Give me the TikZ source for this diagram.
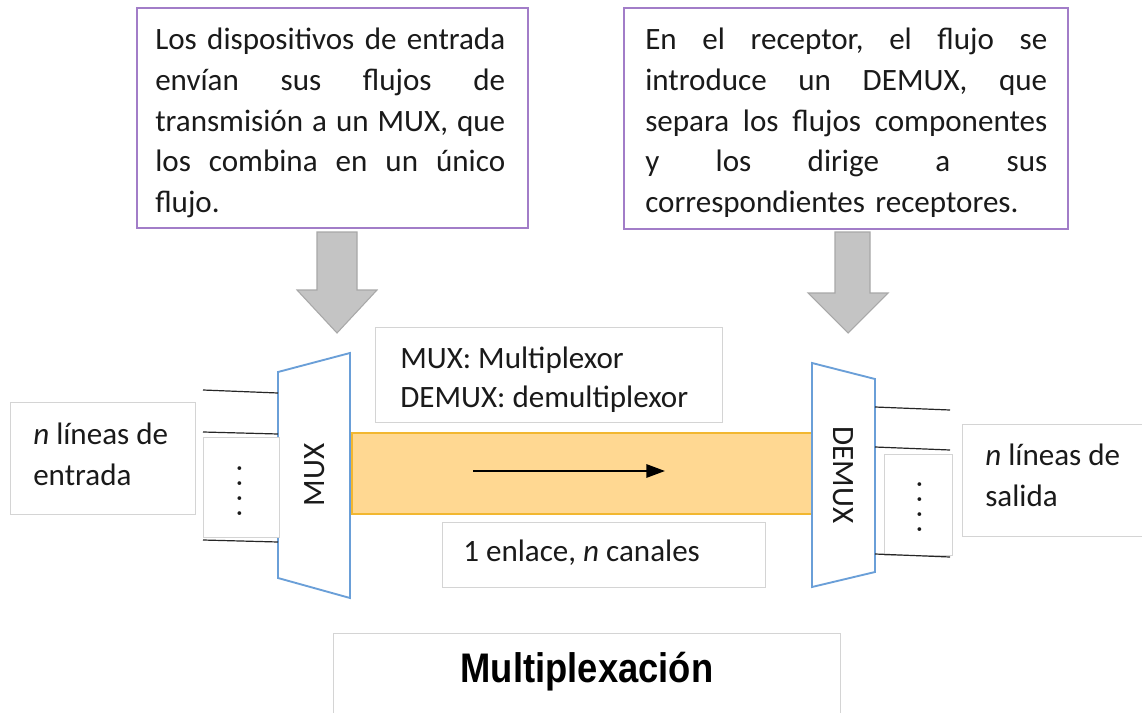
\documentclass[tikz,border=0pt]{standalone}
\usepackage{fontspec}
\setmainfont{Carlito}
\newfontfamily\titlefont{Liberation Sans}
\usetikzlibrary{arrows.meta,fit}
\definecolor{purpleb}{HTML}{A27DC8}
\definecolor{blueb}{HTML}{6A9FD8}
\definecolor{orangef}{HTML}{FFD892}
\definecolor{oranged}{HTML}{F2B730}
\definecolor{grayf}{HTML}{C4C4C4}
\definecolor{grayd}{HTML}{A8A8A8}
\definecolor{lightb}{HTML}{D4D4D4}
\definecolor{txt}{HTML}{1A1A1A}
\newcommand{\jlineA}[1]{\hbox to 262.5pt{#1}}
\newcommand{\jlineB}[1]{\hbox to 301.5pt{#1}}
\tikzset{
  body/.style={font=\fontsize{23.3}{30.4}\selectfont, text=txt, inner sep=0pt},
  pbox/.style={draw=purpleb, line width=1.3pt, fill=white, inner sep=0pt},
  lbox/.style={draw=lightb, line width=0.6pt, fill=white, inner sep=0pt},
  muxshape/.style={draw=blueb, line width=1.4pt, fill=white},
  blockarrow/.style={draw=grayd, fill=grayf, line width=0.8pt},
  wire/.style={draw=black!85, line width=0.9pt},
}
\begin{document}
\begin{tikzpicture}[x=0.75pt,y=-0.75pt]
\clip (0,0) rectangle (1142,713);
\fill[white] (0,0) rectangle (1142,713);

% top boxes
\node[pbox, fit={(137,8) (528,228)}] (b1) {};
\node[body, anchor=base west, text width=262.5pt] (t1) at (155,50) {%
\jlineA{Los\hfill dispositivos\hfill de\hfill entrada}
\jlineA{envían\hfill sus\hfill flujos\hfill de}
\jlineA{transmisión\hfill a\hfill un\hfill MUX,\hfill que}
\jlineA{los\hfill combina\hfill en\hfill un\hfill único}
\jlineA{flujo.\hfil}};

\node[pbox, fit={(624,8) (1068,229)}] (b2) {};
\node[body, anchor=base west, text width=301.5pt] (t2) at (645,50) {%
\jlineB{En\hfill el\hfill receptor,\hfill el\hfill flujo\hfill se}
\jlineB{introduce\hfill un\hfill DEMUX,\hfill que}
\jlineB{separa\hfill los\hfill flujos\hfill componentes}
\jlineB{y\hfill los\hfill dirige\hfill a\hfill sus}
\jlineB{correspondientes receptores.\hfil}};

% gray block arrows
\draw[blockarrow] (317,232) -- (357,232) -- (357,290) -- (377,290) -- (337,333)
  -- (297,290) -- (317,290) -- cycle;
\draw[blockarrow] (835,232) -- (870,232) -- (870,293) -- (888,293) -- (848,333)
  -- (808,293) -- (835,293) -- cycle;

% legend box
\node[lbox, fit={(375,327) (722,422)}] (leg) {};
\node[body, anchor=base west] (legt1) at (400,368) {MUX: Multiplexor};
\node[body, anchor=base west] (legt2) at (400,407) {DEMUX: demultiplexor};

% link
\node[draw=oranged, fill=orangef, line width=1pt, inner sep=0pt,
  fit={(352,433) (812,514)}] (link) {};
\coordinate (fa) at (473,471);
\coordinate (fb) at (665,471);
\draw[line width=1.5pt, -{Triangle[length=14pt,width=10pt]}] (fa) -- (fb);

\node[lbox, fit={(442,522) (765,587)}] (ch) {};
\node[body, anchor=base west] (cht) at (463,561) {1 enlace, \textit{n} canales};

% MUX
\coordinate (m1) at (278,372);
\coordinate (m2) at (350,353);
\coordinate (m3) at (350,598);
\coordinate (m4) at (278,578);
\draw[muxshape] (m1) -- (m2) -- (m3) -- (m4) -- cycle;
\node[body, rotate=90] (mux) at (315,475) {MUX};

% DEMUX
\coordinate (d1) at (812,363);
\coordinate (d2) at (875,379);
\coordinate (d3) at (875,572);
\coordinate (d4) at (812,587);
\draw[muxshape] (d1) -- (d2) -- (d3) -- (d4) -- cycle;
\node[body, rotate=-90] (demux) at (843,475) {DEMUX};

% left inputs
\node[lbox, fit={(10,402) (195,514)}] (inb) {};
\node[body, anchor=base west] (int1) at (33,444) {\textit{n} líneas de};
\node[body, anchor=base west] (int2) at (33,485) {entrada};
\node[lbox, fit={(203,437) (279,537)}] (ldots) {};
\node[body, rotate=90] (ldt) at (240,491) {.\ .\ .\ .};
\coordinate (i1) at (203,390); \coordinate (i1e) at (278,393);
\coordinate (i2) at (203,432); \coordinate (i2e) at (278,434);
\coordinate (i3) at (203,540); \coordinate (i3e) at (278,542);
\draw[wire] (i1) -- (i1e);
\draw[wire] (i2) -- (i2e);
\draw[wire] (i3) -- (i3e);

% right outputs
\node[lbox, fit={(962,424) (1150,536)}] (outb) {};
\node[body, anchor=base west] (outt1) at (985,465) {\textit{n} líneas de};
\node[body, anchor=base west] (outt2) at (985,506) {salida};
\node[lbox, fit={(884,454) (952,555)}] (rdots) {};
\node[body, rotate=90] (rdt) at (920,507) {.\ .\ .\ .};
\coordinate (o1) at (875,407); \coordinate (o1e) at (950,410);
\coordinate (o2) at (875,447); \coordinate (o2e) at (950,450);
\coordinate (o3) at (875,554); \coordinate (o3e) at (950,557);
\draw[wire] (o1) -- (o1e);
\draw[wire] (o2) -- (o2e);
\draw[wire] (o3) -- (o3e);

% title
\node[lbox, fit={(333,633) (840,720)}] (tb) {};
\node[inner sep=0pt, anchor=base] (title) at (587,682)
  {\scalebox{0.88}[1]{\titlefont\bfseries\fontsize{31}{31}\selectfont Multiplexación}};
\end{tikzpicture}
\end{document}
